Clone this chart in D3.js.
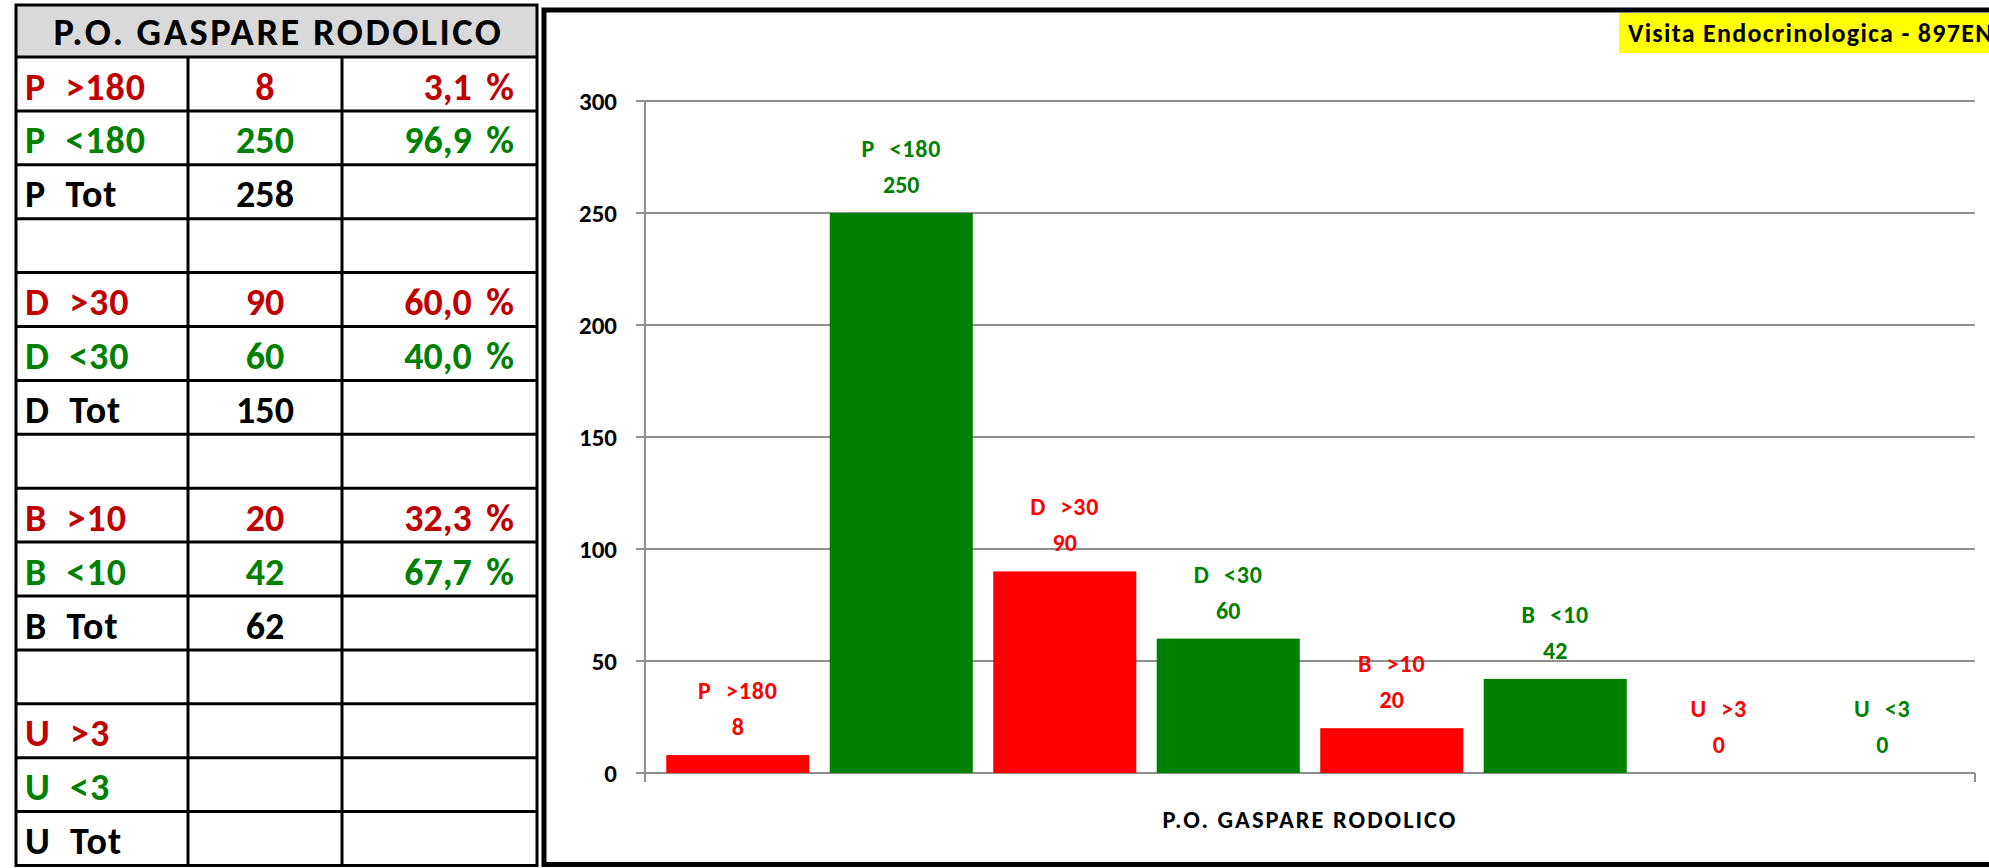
<!DOCTYPE html>
<html>
<head>
<meta charset="utf-8">
<script src="https://cdn.jsdelivr.net/npm/d3@7"></script>
<style>
  body { margin: 0; background: #fff; }
  text { font-family: Carlito, Lato, "Open Sans", sans-serif; font-weight: bold; white-space: pre; }
</style>
</head>
<body>
<svg id="chart" width="1989" height="868"></svg>
<script>
// ---- data ----
const hospital = "P.O. GASPARE RODOLICO";
const service = "Visita Endocrinologica - 897EN";

const categories = ["P  >180", "P  <180", "D  >30", "D  <30", "B  >10", "B  <10", "U  >3", "U  <3"];
const values = [8, 250, 90, 60, 20, 42, 0, 0];
const isOver = [true, false, true, false, true, false, true, false];

const tableLabels = ["P  >180", "P  <180", "P  Tot", "", "D  >30", "D  <30", "D  Tot", "", "B  >10", "B  <10", "B  Tot", "", "U  >3", "U  <3", "U  Tot"];
const tableCounts = ["8", "250", "258", "", "90", "60", "150", "", "20", "42", "62", "", "", "", ""];
const tablePct = ["3,1 %", "96,9 %", "", "", "60,0 %", "40,0 %", "", "", "32,3 %", "67,7 %", "", "", "", "", ""];
const tableKind = ["over", "under", "tot", "", "over", "under", "tot", "", "over", "under", "tot", "", "over", "under", "tot"];

const yTicks = [0, 50, 100, 150, 200, 250, 300];

const svg = d3.select("#chart");

// ---- table ----
const colX = [16, 188, 342, 537];
const tTop = 5, headBottom = 57, rowH = 53.9;
const tableColor = { over: "#c00000", under: "#008000", tot: "#000", "": "#000" };

svg.append("rect")
    .attr("x", colX[0]).attr("y", tTop)
    .attr("width", colX[3] - colX[0]).attr("height", headBottom - tTop)
    .attr("fill", "#d9d9d9");

svg.append("text")
    .attr("x", (colX[0] + colX[3]) / 2 + 2)
    .attr("y", 45)
    .attr("text-anchor", "middle")
    .attr("font-size", 38.5)
    .attr("letter-spacing", 2.5)
    .text(hospital);

let rows = svg.append("g").selectAll("g")
    .data(tableLabels)
    .enter()
    .append("g")
    .attr("transform", (d, i) => `translate(0,${headBottom + i * rowH})`);

rows.append("text")
    .attr("x", colX[0] + 9).attr("y", 42.5)
    .attr("font-size", 38)
    .attr("letter-spacing", 1)
    .attr("fill", (d, i) => tableColor[tableKind[i]])
    .text(d => d);

rows.append("text")
    .attr("x", (colX[1] + colX[2]) / 2).attr("y", 42.5)
    .attr("text-anchor", "middle")
    .attr("font-size", 38)
    .attr("fill", (d, i) => tableColor[tableKind[i]])
    .text((d, i) => tableCounts[i]);

rows.append("text")
    .attr("x", colX[3] - 23).attr("y", 42.5)
    .attr("text-anchor", "end")
    .attr("font-size", 38)
    .attr("word-spacing", 6)
    .attr("fill", (d, i) => tableColor[tableKind[i]])
    .text((d, i) => tablePct[i]);

// grid lines of the table
const tBottom = headBottom + tableLabels.length * rowH;
const hLines = d3.range(tableLabels.length).map(i => headBottom + i * rowH);
svg.append("g").selectAll("line")
    .data(hLines)
    .enter()
    .append("line")
    .attr("x1", colX[0]).attr("x2", colX[3])
    .attr("y1", d => d).attr("y2", d => d)
    .attr("stroke", "#000").attr("stroke-width", 3);

svg.append("g").selectAll("line")
    .data([colX[1], colX[2]])
    .enter()
    .append("line")
    .attr("x1", d => d).attr("x2", d => d)
    .attr("y1", headBottom).attr("y2", tBottom)
    .attr("stroke", "#000").attr("stroke-width", 3);

svg.append("rect")
    .attr("x", colX[0]).attr("y", tTop)
    .attr("width", colX[3] - colX[0]).attr("height", tBottom - tTop)
    .attr("fill", "none").attr("stroke", "#000").attr("stroke-width", 3);

// ---- chart frame ----
svg.append("rect")
    .attr("x", 544).attr("y", 10)
    .attr("width", 1500).attr("height", 854.5)
    .attr("fill", "#fff").attr("stroke", "#000").attr("stroke-width", 5);

svg.append("rect")
    .attr("x", 1619).attr("y", 13)
    .attr("width", 400).attr("height", 40)
    .attr("fill", "#ffff00");

svg.append("text")
    .attr("x", 1628).attr("y", 42)
    .attr("font-size", 26)
    .attr("letter-spacing", 1.3)
    .attr("fill", "#000")
    .text(service);

// ---- scales ----
const plotL = 645, plotR = 1975, plotT = 101, plotB = 773;

const x = d3.scaleBand()
    .domain(categories)
    .range([plotL, plotR])
    .paddingInner(0.125)
    .paddingOuter(0.13);

const y = d3.scaleLinear()
    .domain([0, 300])
    .range([plotB, plotT]);

const gray = "#8f8f8f";

// gridlines + ticks
svg.append("g").selectAll("line")
    .data(yTicks)
    .enter()
    .append("line")
    .attr("x1", plotL - 9).attr("x2", plotR)
    .attr("y1", d => y(d)).attr("y2", d => y(d))
    .attr("stroke", gray).attr("stroke-width", 2);

svg.append("g").selectAll("text")
    .data(yTicks)
    .enter()
    .append("text")
    .attr("x", 617)
    .attr("y", d => y(d))
    .attr("dy", "0.36em")
    .attr("text-anchor", "end")
    .attr("font-size", 25)
    .attr("fill", "#000")
    .text(d => d);

// axes lines
svg.append("line")
    .attr("x1", plotL).attr("x2", plotL)
    .attr("y1", y(300)).attr("y2", plotB + 9)
    .attr("stroke", gray).attr("stroke-width", 2);

svg.append("line")
    .attr("x1", plotR).attr("x2", plotR)
    .attr("y1", plotB).attr("y2", plotB + 9)
    .attr("stroke", gray).attr("stroke-width", 2);

// bars
svg.append("g").selectAll("rect")
    .data(categories)
    .enter()
    .append("rect")
    .attr("x", d => x(d))
    .attr("y", (d, i) => y(values[i]))
    .attr("width", x.bandwidth())
    .attr("height", (d, i) => y(0) - y(values[i]))
    .attr("fill", (d, i) => isOver[i] ? "#ff0000" : "#008000");

// data labels
let labels = svg.append("g").selectAll("g")
    .data(categories)
    .enter()
    .append("g")
    .attr("transform", (d, i) => `translate(${x(d) + x.bandwidth() / 2},${y(values[i])})`)
    .attr("fill", (d, i) => isOver[i] ? "#ff0000" : "#008000");

labels.append("text")
    .attr("y", -56)
    .attr("text-anchor", "middle")
    .attr("font-size", 24)
    .attr("letter-spacing", 0.8)
    .attr("word-spacing", 1)
    .text(d => d);

labels.append("text")
    .attr("y", -20)
    .attr("text-anchor", "middle")
    .attr("font-size", 24)
    .text((d, i) => values[i]);

// x axis title
svg.append("text")
    .attr("x", (plotL + plotR) / 2)
    .attr("y", 828)
    .attr("text-anchor", "middle")
    .attr("font-size", 24.5)
    .attr("letter-spacing", 2)
    .attr("fill", "#000")
    .text(hospital);
</script>
</body>
</html>
